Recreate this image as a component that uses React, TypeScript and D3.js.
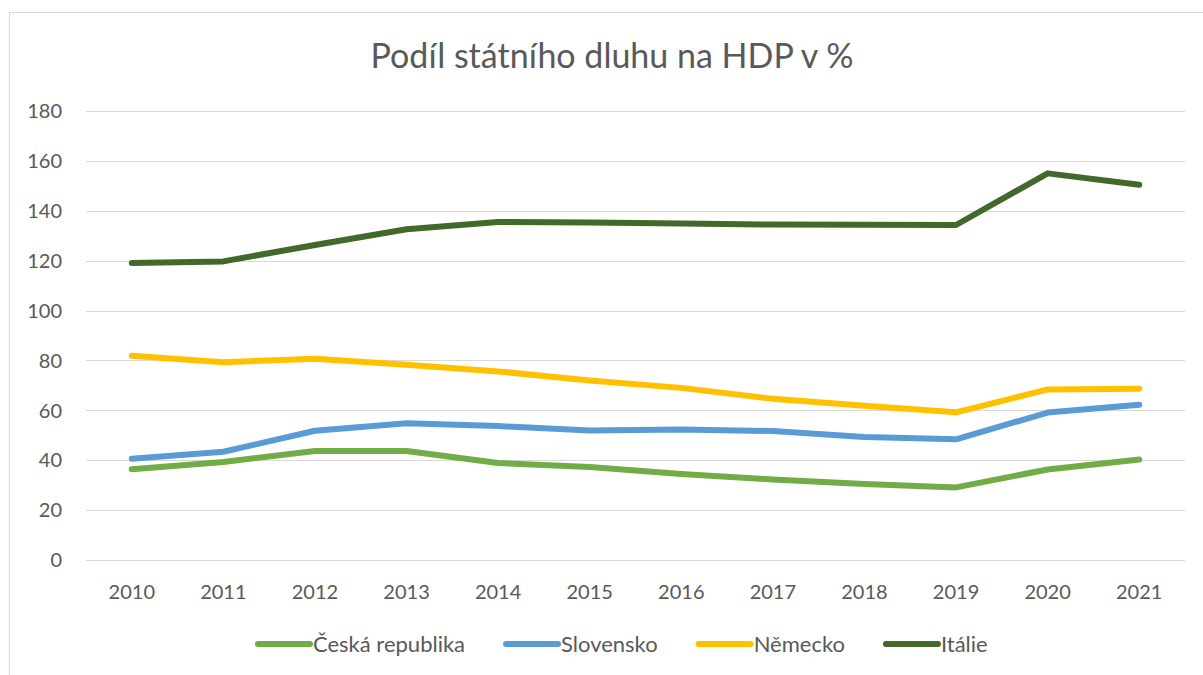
import * as d3 from 'd3';
import React, { useEffect, useRef } from 'react';

const years = ['2010', '2011', '2012', '2013', '2014', '2015', '2016', '2017', '2018', '2019', '2020', '2021'];
const yTicks = [0, 20, 40, 60, 80, 100, 120, 140, 160, 180];

const seriesNames = ['Česká republika', 'Slovensko', 'Německo', 'Itálie'];
const seriesColors = ['#70AD47', '#5B9BD5', '#FFC000', '#43682B'];

const cesko = [36.4, 39.3, 43.7, 43.7, 38.9, 37.3, 34.5, 32.3, 30.5, 29.1, 36.3, 40.3];
const slovensko = [40.6, 43.4, 51.8, 54.8, 53.7, 51.9, 52.3, 51.7, 49.3, 48.4, 59.1, 62.2];
const nemecko = [81.9, 79.3, 80.7, 78.3, 75.6, 72.0, 69.0, 64.6, 61.8, 59.2, 68.4, 68.7];
const italie = [119.1, 119.7, 126.3, 132.6, 135.5, 135.3, 134.9, 134.5, 134.4, 134.3, 155.0, 150.4];

const seriesValues = [cesko, slovensko, nemecko, italie];

const W = 1203;
const H = 675;
const margin = { top: 111, right: 18, bottom: 115, left: 86 };
const font = 'Lato, "Open Sans", sans-serif';
const textColor = '#595959';

const App = () => {
    const ref = useRef(null);

    useEffect(() => {
        const svg = d3.select(ref.current);
        svg.selectAll('*').remove();

        const innerW = W - margin.left - margin.right;
        const innerH = H - margin.top - margin.bottom;

        // chart frame
        svg.append('rect')
            .attr('x', 9.5)
            .attr('y', 12.5)
            .attr('width', W + 20)
            .attr('height', H + 20)
            .attr('fill', '#fff')
            .attr('stroke', '#D9D9D9');

        svg.append('text')
            .attr('x', 612)
            .attr('y', 68)
            .attr('text-anchor', 'middle')
            .attr('font-family', font)
            .attr('font-size', 34)
            .attr('fill', textColor)
            .text('Podíl státního dluhu na HDP v %');

        const g = svg.append('g').attr('transform', `translate(${margin.left},${margin.top})`);

        const x = d3.scalePoint().domain(years).range([0, innerW]).padding(0.5);
        const y = d3.scaleLinear().domain([0, 180]).range([innerH, 0]);

        // gridlines
        g.selectAll('.grid')
            .data(yTicks)
            .enter().append('line')
            .attr('x1', 0)
            .attr('x2', innerW)
            .attr('y1', d => Math.round(y(d)) + 0.5)
            .attr('y2', d => Math.round(y(d)) + 0.5)
            .attr('stroke', '#D9D9D9')
            .attr('stroke-width', 1);

        // y labels
        g.selectAll('.ylab')
            .data(yTicks)
            .enter().append('text')
            .attr('x', -24)
            .attr('y', d => y(d))
            .attr('dy', '0.36em')
            .attr('text-anchor', 'end')
            .attr('font-family', font)
            .attr('font-size', 20)
            .attr('fill', textColor)
            .text(d => d);

        // x labels
        g.selectAll('.xlab')
            .data(years)
            .enter().append('text')
            .attr('x', d => x(d))
            .attr('y', innerH + 39)
            .attr('text-anchor', 'middle')
            .attr('font-family', font)
            .attr('font-size', 20)
            .attr('fill', textColor)
            .text(d => d);

        const line = d3.line()
            .x((d, i) => x(years[i]))
            .y(d => y(d));

        seriesValues.forEach((vals, i) => {
            g.append('path')
                .datum(vals)
                .attr('fill', 'none')
                .attr('stroke', seriesColors[i])
                .attr('stroke-width', 6)
                .attr('stroke-linecap', 'round')
                .attr('stroke-linejoin', 'round')
                .attr('d', line);
        });

        // legend, centred under the plot
        const legend = svg.append('g');
        let cx = 0;
        seriesNames.forEach((name, i) => {
            const item = legend.append('g').attr('transform', `translate(${cx},0)`);
            item.append('line')
                .attr('x1', 3)
                .attr('x2', 55)
                .attr('stroke', seriesColors[i])
                .attr('stroke-width', 6)
                .attr('stroke-linecap', 'round');
            const t = item.append('text')
                .attr('x', 58)
                .attr('y', 8)
                .attr('font-family', font)
                .attr('font-size', 22)
                .attr('fill', textColor)
                .text(name);
            const w = t.node().getComputedTextLength();
            cx += 58 + w + (i < seriesNames.length - 1 ? 38 : 0);
        });
        legend.attr('transform', `translate(${Math.round(621 - cx / 2)},644)`);
    }, []);

    return (
        <svg ref={ref} width={W} height={H} style={{ position: 'absolute', left: 0, top: 0, background: '#fff' }} />
    );
};

export default App;
